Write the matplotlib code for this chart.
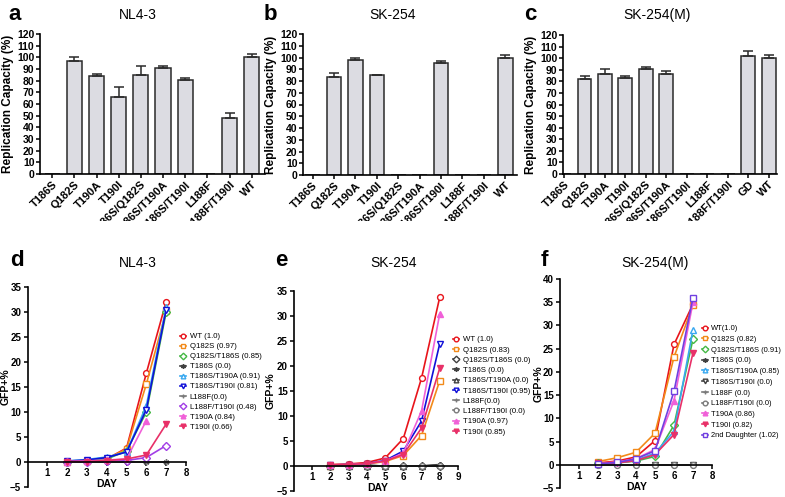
import matplotlib
matplotlib.use('Agg')
import matplotlib.pyplot as plt
from matplotlib.transforms import Bbox, TransformedBbox
import numpy as np

plt.rcParams['font.family'] = ['Liberation Sans', 'DejaVu Sans']

# ---------------- data ----------------
cats_ab = ['T186S', 'Q182S', 'T190A', 'T190I', 'T186S/Q182S', 'T186S/T190A',
           'T186S/T190I', 'L188F', 'L188F/T190I', 'WT']
cats_c = ['T186S', 'Q182S', 'T190A', 'T190I', 'T186S/Q182S', 'T186S/T190A',
          'T186S/T190I', 'L188F', 'L188F/T190I', 'GD', 'WT']
a_vals = [0, 96.5, 84, 66, 85, 90.5, 81, 0, 48, 100]
a_err = [0, 3.5, 2, 9, 7.5, 2, 1.5, 0, 4.5, 2.5]
b_vals = [0, 83.5, 97.5, 85, 0, 0, 95, 0, 0, 100]
b_err = [0, 3, 2, 0.5, 0, 0, 2, 0, 0, 2.5]
c_vals = [0, 82, 86.5, 82.5, 91, 86, 0, 0, 0, 101.5, 100]
c_err = [0, 2.5, 4, 2.5, 1, 3, 0, 0, 0, 4.5, 3]

days_d = [2, 3, 4, 5, 6, 7]
d_labels = ['WT (1.0)', 'Q182S (0.97)', 'Q182S/T186S (0.85)', 'T186S (0.0)',
            'T186S/T190A (0.91)', 'T186S/T190I (0.81)', 'L188F(0.0)',
            'L188F/T190I (0.48)', 'T190A (0.84)', 'T190I (0.66)']
d_wt = [0.1, 0.2, 0.6, 2.8, 17.8, 32.1]
d_q182s = [0.1, 0.2, 0.7, 2.6, 15.6, 30.2]
d_q182s_t186s = [0.1, 0.3, 0.6, 2.2, 10.0, 30.0]
d_t186s = [0, 0, 0, 0, 0, 0]
d_t186s_t190a = [0.2, 0.5, 1.0, 2.0, 11.3, 31.0]
d_t186s_t190i = [0.2, 0.4, 0.9, 2.0, 10.5, 30.5]
d_l188f = [0, 0, 0, 0, 0, 0]
d_l188f_t190i = [0.1, 0.1, 0.3, 0.3, 0.9, 3.3]
d_t190a = [0.1, 0.2, 0.4, 0.6, 8.3, np.nan]
d_t190i = [0.1, 0.1, 0.3, 0.6, 1.4, 7.6]

days_e = [2, 3, 4, 5, 6, 7, 8]
e_labels = ['WT (1.0)', 'Q182S (0.83)', 'Q182S/T186S (0.0)', 'T186S (0.0)',
            'T186S/T190A (0.0)', 'T186S/T190I (0.95)', 'L188F(0.0)',
            'L188F/T190I (0.0)', 'T190A (0.97)', 'T190I (0.85)']
e_wt = [0.3, 0.4, 0.7, 1.6, 5.5, 17.6, 33.8]
e_q182s = [0.1, 0.2, 0.4, 0.9, 2.1, 6.1, 17.1]
e_q182s_t186s = [0.1, 0.1, 0.1, 0.0, 0.0, 0.0, 0.0]
e_t186s = [0.1, 0.1, 0.1, 0.0, 0.0, 0.0, 0.2]
e_t186s_t190a = [0.1, 0.1, 0.1, 0.0, 0.0, 0.0, 0.3]
e_t186s_t190i = [0.2, 0.3, 0.5, 1.1, 3.0, 9.0, 24.5]
e_l188f = [0, 0, 0, 0, 0, 0, 0]
e_l188f_t190i = [0.1, 0.1, 0.0, 0.0, 0.0, 0.0, 0.0]
e_t190a = [0.2, 0.3, 0.5, 1.0, 2.6, 11.0, 30.5]
e_t190i = [0.2, 0.3, 0.5, 1.0, 2.3, 7.6, 19.6]

days_f = [2, 3, 4, 5, 6, 7]
f_labels = ['WT(1.0)', 'Q182S (0.82)', 'Q182S/T186S (0.91)', 'T186S (0.0)',
            'T186S/T190A (0.85)', 'T186S/T190I (0.0)', 'L188F (0.0)',
            'L188F/T190I (0.0)', 'T190A (0.86)', 'T190I (0.82)',
            '2nd Daughter (1.02)']
f_wt = [0.4, 0.8, 1.7, 5.2, 25.9, 34.6]
f_q182s = [0.7, 1.5, 2.7, 6.8, 23.2, 34.4]
f_q182s_t186s = [0.3, 0.4, 0.8, 1.8, 8.5, 27.1]
f_t186s = [0, 0, 0, 0, 0, 0]
f_t186s_t190a = [0.2, 0.4, 1.0, 2.5, 7.2, 29.1]
f_t186s_t190i = [0, 0, 0, 0, 0, 0]
f_l188f = [0, 0, 0, 0, 0, 0]
f_l188f_t190i = [0, 0, 0, 0, 0, 0]
f_t190a = [0.3, 0.6, 1.3, 3.3, 13.8, 35.0]
f_t190i = [0.3, 0.4, 0.9, 2.2, 6.5, 24.1]
f_2nd = [0.2, 0.5, 1.3, 3.0, 15.8, 36.0]

# ---------------- styles ----------------
RED = '#e8141b'; ORANGE = '#f28a1a'; GREEN = '#45b845'; DGRAY = '#404040'
LBLUE = '#38a8f0'; BLUE = '#1010d8'; GRAY = '#7a7a7a'; PURPLE = '#a23ee6'
PINK = '#f060d8'; CRIMSON = '#e83068'; VIOLET = '#7040e0'
AST = (6, 2, 0)

d_styles = [(RED, 'o', False), (ORANGE, 's', False), (GREEN, 'D', False),
            (DGRAY, AST, False), (LBLUE, '^', False), (BLUE, 'v', False),
            (GRAY, '+', False), (PURPLE, 'D', False), (PINK, '^', True),
            (CRIMSON, 'v', True)]
e_styles = [(RED, 'o', False), (ORANGE, 's', False), (DGRAY, 'D', False),
            (DGRAY, AST, False), (DGRAY, '^', False), (BLUE, 'v', False),
            (GRAY, '+', False), (GRAY, 'o', False), (PINK, '^', True),
            (CRIMSON, 'v', True)]
f_styles = [(RED, 'o', False), (ORANGE, 's', False), (GREEN, 'D', False),
            (DGRAY, AST, False), (LBLUE, '^', False), (DGRAY, 'v', False),
            (GRAY, '+', False), (GRAY, 'o', False), (PINK, '^', True),
            (CRIMSON, 'v', True), (VIOLET, 's', False)]

W, H = 785, 497
fig = plt.figure(figsize=(W / 100, H / 100), dpi=100)
label_clip = TransformedBbox(Bbox([[0, 1 - 221 / H], [1, 1]]), fig.transFigure)


def px_axes(x0, y0, x1, y1):
    return fig.add_axes([x0 / W, 1 - y1 / H, (x1 - x0) / W, (y1 - y0) / H])


def bar_panel(ax, cats, vals, errs, xlim):
    x = np.arange(len(cats))
    ax.bar(x, vals, width=0.68, color='#dcdce2', edgecolor='#2a2a2a',
           linewidth=1.1, zorder=2)
    errs = np.array(errs, dtype=float)
    vals = np.array(vals, dtype=float)
    m = errs > 0
    ax.errorbar(x[m], vals[m], yerr=[np.zeros(m.sum()), errs[m]], fmt='none',
                ecolor='#2a2a2a', elinewidth=1.1, capsize=3.5, capthick=1.1,
                zorder=3)
    ax.set_xlim(*xlim)
    ax.set_ylim(0, 120)
    ax.set_yticks(np.arange(0, 121, 10))
    ax.set_xticks(x)
    ax.set_xticklabels(cats, rotation=45, ha='right', va='top',
                       rotation_mode='anchor', fontsize=8, fontweight='bold')
    for lab in ax.get_xticklabels():
        lab.set_clip_on(True)
        lab.set_clip_box(label_clip)
    for lab in ax.get_yticklabels():
        lab.set_fontsize(7.5)
        lab.set_fontweight('bold')
    ax.tick_params(axis='both', direction='out', length=3, width=1.1, pad=1)
    ax.spines['top'].set_visible(False)
    ax.spines['right'].set_visible(False)
    ax.spines['left'].set_linewidth(1.2)
    ax.spines['bottom'].set_linewidth(1.2)
    ax.set_ylabel('Replication Capacity (%)', fontsize=8.5, fontweight='bold',
                  labelpad=2)


def line_panel(ax, days, series, labels, styles, xmax, ymax, leg_xy, leg_sp,
               ylab_x, day_x, leg_size=5.6):
    for vals, lab, (col, mk, filled) in zip(series, labels, styles):
        ax.plot(days, vals, color=col, marker=mk, markersize=4.2,
                markerfacecolor=(col if filled else 'white'),
                markeredgecolor=col, markeredgewidth=1.0, linewidth=1.2,
                label=lab, clip_on=False)
    ax.set_xlim(0, xmax)
    ax.set_ylim(-5, ymax)
    ax.set_xticks(np.arange(1, xmax + 1))
    ax.set_yticks(np.arange(-5, ymax + 1, 5))
    ax.spines['top'].set_visible(False)
    ax.spines['right'].set_visible(False)
    ax.spines['bottom'].set_position(('data', 0))
    ax.spines['left'].set_linewidth(1.2)
    ax.spines['bottom'].set_linewidth(1.2)
    ax.tick_params(axis='both', direction='out', length=3, width=1.1, pad=1.5,
                   labelsize=7)
    for lab in ax.get_xticklabels() + ax.get_yticklabels():
        lab.set_fontweight('bold')
    ax.set_ylabel('GFP+%', fontsize=7.5, fontweight='bold')
    ax.yaxis.set_label_coords(ylab_x, 0.5)
    ax.annotate('DAY', xy=(day_x, 0), xytext=(0, -16), textcoords='offset points',
                ha='center', va='center', fontsize=7.5, fontweight='bold')
    ax.legend(loc='upper left', bbox_to_anchor=(leg_xy[0] / W, 1 - leg_xy[1] / H),
              bbox_transform=fig.transFigure, frameon=False,
              prop={'size': leg_size},
              handlelength=0.75, handletextpad=0.5, borderpad=0,
              borderaxespad=0, labelspacing=leg_sp, markerscale=0.8)


# bar panels
ax_a = px_axes(40, 34, 265, 174)
bar_panel(ax_a, cats_ab, a_vals, a_err, (-0.55, 9.6))
ax_b = px_axes(303, 34, 517, 175)
bar_panel(ax_b, cats_ab, b_vals, b_err, (-0.45, 9.55))
ax_c = px_axes(563, 35, 777, 174)
bar_panel(ax_c, cats_c, c_vals, c_err, (-0.05, 10.4))

# line panels
ax_d = px_axes(27.5, 287, 186, 487)
line_panel(ax_d, days_d,
           [d_wt, d_q182s, d_q182s_t186s, d_t186s, d_t186s_t190a, d_t186s_t190i,
            d_l188f, d_l188f_t190i, d_t190a, d_t190i],
           d_labels, d_styles, 8, 35, (180, 333), 0.33, -0.105, 4.0)
ax_e = px_axes(294, 291, 458, 491)
line_panel(ax_e, days_e,
           [e_wt, e_q182s, e_q182s_t186s, e_t186s, e_t186s_t190a, e_t186s_t190i,
            e_l188f, e_l188f_t190i, e_t190a, e_t190i],
           e_labels, e_styles, 9, 35, (453, 336), 0.36, -0.11, 4.6)
ax_f = px_axes(560, 279, 712, 488)
line_panel(ax_f, days_f,
           [f_wt, f_q182s, f_q182s_t186s, f_t186s, f_t186s_t190a, f_t186s_t190i,
            f_l188f, f_l188f_t190i, f_t190a, f_t190i, f_2nd],
           f_labels, f_styles, 8, 40, (702, 325), 0.45, -0.11, 4.05, 5.45)

# titles and panel letters
for (x, y, t) in [(138, 15, 'NL4-3'), (393, 15, 'SK-254'), (657, 15, 'SK-254(M)'),
                  (138, 263, 'NL4-3'), (394, 263, 'SK-254'), (655, 263, 'SK-254(M)')]:
    fig.text(x / W, 1 - y / H, t, ha='center', va='center', fontsize=10)
for (x, y, t) in [(15, 14, 'a'), (270, 14, 'b'), (530, 14, 'c'),
                  (17, 261, 'd'), (281, 261, 'e'), (544, 261, 'f')]:
    fig.text(x / W, 1 - y / H, t, ha='center', va='center', fontsize=16,
             fontweight='bold')

fig.savefig('out.png', dpi=100)
